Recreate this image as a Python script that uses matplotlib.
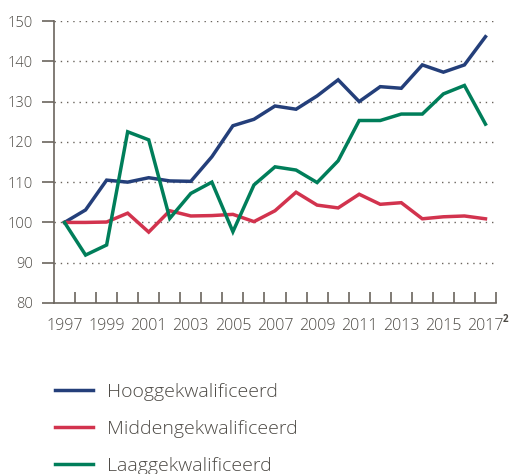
import matplotlib
matplotlib.use("Agg")
import matplotlib.pyplot as plt
import numpy as np

years = list(range(1997, 2018))
hoog = [100, 103.1, 110.5, 110.0, 111.1, 110.3, 110.2, 116.3, 124.0, 125.6, 128.9,
        128.1, 131.4, 135.4, 130.0, 133.7, 133.3, 139.1, 137.3, 139.1, 146.1]
midden = [100, 100.0, 100.1, 102.3, 97.6, 102.9, 101.6, 101.7, 102.0, 100.2, 102.9,
          107.5, 104.3, 103.6, 107.0, 104.5, 104.9, 100.9, 101.4, 101.6, 100.9]
laag = [100, 91.9, 94.4, 122.5, 120.5, 101.0, 107.2, 110.0, 97.7, 109.3, 113.8,
        113.0, 109.9, 115.3, 125.3, 125.3, 126.9, 126.9, 131.9, 134.0, 124.4]
labels = ["Hooggekwalificeerd", "Middengekwalificeerd", "Laaggekwalificeerd"]
colors = ["#243f7a", "#d2334e", "#007e5a"]
yticks = [80, 90, 100, 110, 120, 130, 140, 150]

plt.rcParams['font.family'] = ['Open Sans', 'DejaVu Sans']
plt.rcParams['font.weight'] = 'light'
txt = "#4d4a45"
axc = "#6b655e"

fig = plt.figure(figsize=(5.10, 4.74), dpi=100)
ax = fig.add_axes([54/510, 171/474, 442/510, 282/474])

x = np.arange(len(years))
for series, c, lab in zip([hoog, midden, laag], colors, labels):
    ax.plot(x, series, color=c, lw=2.5, label=lab, solid_joinstyle='miter')

ax.set_xlim(-0.5, len(years) - 0.5)
ax.set_ylim(80, 150)

for s in ["top", "right"]:
    ax.spines[s].set_visible(False)
for s in ["left", "bottom"]:
    ax.spines[s].set_color(axc)
    ax.spines[s].set_linewidth(1.2)

for v in yticks[1:]:
    ax.axhline(v, color="#6b655e", lw=1.0, ls=(0, (1, 3.5)), zorder=0)

ax.set_yticks(yticks)
ax.tick_params(axis='y', direction='out', length=9, width=1.2, color=axc,
               labelsize=10.5, labelcolor=txt, pad=6)

ax.set_xticks(np.arange(len(years)) + 0.5, minor=False)
ax.set_xticklabels([])
ax.tick_params(axis='x', which='major', direction='in', length=8, width=1.2, color=axc)
ax.set_xticks(x[::2], minor=True)
ax.set_xticklabels([str(y) for y in years[::2]], minor=True)
ax.tick_params(axis='x', which='minor', length=0, labelsize=11.5, labelcolor=txt, pad=11)

ax.annotate("2", xy=(len(years) - 0.5, 80), xycoords='data', xytext=(6.5, -12),
            textcoords='offset points', fontsize=7, fontweight='bold', color=txt,
            ha='center', va='center', annotation_clip=False)

fig.legend(loc='upper left', bbox_to_anchor=(37/510, 1 - 365.5/474), frameon=False,
           fontsize=14, labelcolor=txt, handlelength=1.96, handletextpad=0.72,
           labelspacing=0.97)

fig.savefig("out.png", dpi=100)
